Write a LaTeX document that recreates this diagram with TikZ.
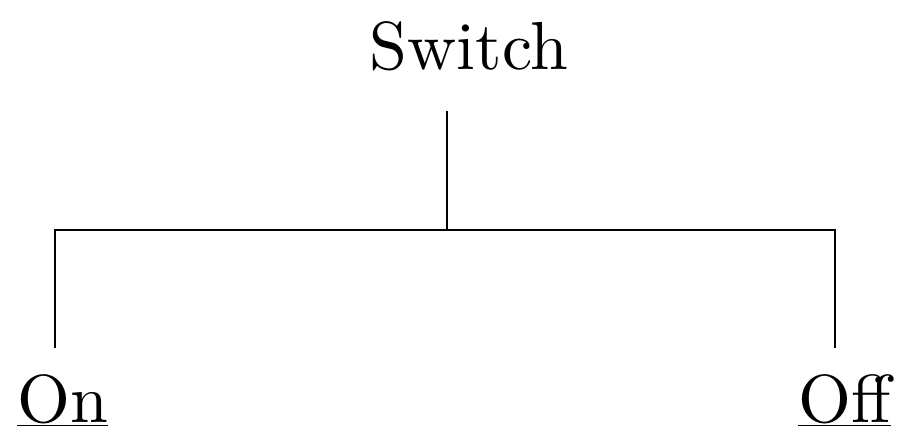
\documentclass[tikz,border=0pt]{standalone}
\usepackage{fontspec}
\newfontfamily\lmten{lmroman10-regular.otf}
\begin{document}
\begin{tikzpicture}[x=1pt,y=-1pt,
  lbl/.style={inner sep=0pt,anchor=base,font=\lmten\fontsize{68}{80}\selectfont},
  wire/.style={line width=2.6pt}]
\useasboundingbox (0,0) rectangle (907,444);
\node[lbl] (sw) at (469,70) {Switch};
\node[lbl,anchor=base west] (on) at (17,422) {\underline{On}};
\node[lbl,anchor=base west] (off) at (798,422) {\underline{Off}};
\coordinate (top) at (447,111);
\coordinate (mid) at (447,230);
\coordinate (l) at (55,230);
\coordinate (r) at (835,230);
\coordinate (le) at (55,348);
\coordinate (re) at (835,348);
\draw[wire] (top) -- (mid);
\draw[wire,line join=miter] (le) -- (l) -- (r) -- (re);
\end{tikzpicture}
\end{document}
